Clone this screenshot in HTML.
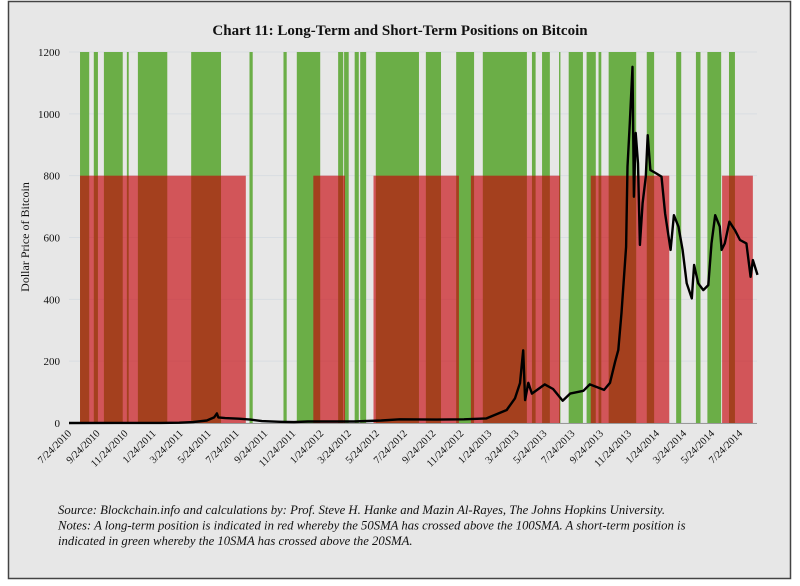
<!DOCTYPE html>
<html><head><meta charset="utf-8"><style>
html,body{margin:0;padding:0;background:#fff;}
svg{display:block;font-family:"Liberation Serif",serif;}
</style></head><body>
<svg id="chart" width="800" height="586" xmlns="http://www.w3.org/2000/svg">
<rect x="8.5" y="1.5" width="782" height="577" fill="#e7e7e7" stroke="#444" stroke-width="1.5"/>
<text x="400" y="35" text-anchor="middle" font-size="15" font-weight="bold" fill="#111">Chart 11: Long-Term and Short-Term Positions on Bitcoin</text>
<text transform="translate(29,237) rotate(-90)" text-anchor="middle" font-size="12" fill="#111">Dollar Price of Bitcoin</text>
<g id="grid"></g><g id="green"></g><g id="red"></g><g id="line"></g><g id="yt"></g><g id="xt"></g>
<text x="58" y="514" font-size="12.7" font-style="italic" fill="#111">Source: Blockchain.info and calculations by: Prof. Steve H. Hanke and Mazin Al-Rayes, The Johns Hopkins University.</text>
<text x="58" y="529.5" font-size="12.7" font-style="italic" fill="#111">Notes: A long-term position is indicated in red whereby the 50SMA has crossed above the 100SMA. A short-term position is</text>
<text x="58" y="545" font-size="12.7" font-style="italic" fill="#111">indicated in green whereby the 10SMA has crossed above the 20SMA.</text>
</svg>
<script>
// days since 7/24/2010
const greenStart=[24,54,76,126,150,266,393,467,496,586,599,622,634,668,777,843,901,1008,1030,1067,1088,1127,1153,1175,1258,1322,1365,1390,1437];
const greenEnd  =[44,63,117,130,214,331,400,474,547,597,609,631,647,762,810,882,997,1016,1047,1070,1119,1147,1159,1235,1274,1333,1375,1420,1450];
const redStart=[24,532,663,875,1136,1422];
const redEnd  =[385,601,849,1069,1307,1489];
const bandLevelGreen=1200, bandLevelRed=800;
const priceDays=[0,100,200,240,270,300,316,322,325,340,370,395,420,460,490,520,560,620,680,720,800,860,909,953,971,982,989,993,1000,1008,1036,1054,1075,1091,1120,1134,1165,1178,1189,1196,1203,1213,1216,1221,1227,1230,1234,1239,1243,1249,1256,1260,1266,1279,1290,1298,1310,1317,1327,1336,1345,1356,1361,1370,1381,1392,1399,1407,1417,1421,1428,1438,1450,1461,1475,1484,1489,1499];
const priceVals=[0.06,0.2,0.3,1,3,8,18,31,18,16,14,11,6,4,3,5,5,5,8,12,11,12,15,42,80,129,235,74,130,95,125,110,72,95,104,125,107,130,198,236,356,570,829,970,1152,732,938,840,576,711,797,931,818,807,797,678,560,672,635,560,452,403,511,452,430,446,581,672,635,560,581,651,624,592,581,473,527,479];
const yTicks=[0,200,400,600,800,1000,1200];
const xTickLabels=["7/24/2010","9/24/2010","11/24/2010","1/24/2011","3/24/2011","5/24/2011","7/24/2011","9/24/2011","11/24/2011","1/24/2012","3/24/2012","5/24/2012","7/24/2012","9/24/2012","11/24/2012","1/24/2013","3/24/2013","5/24/2013","7/24/2013","9/24/2013","11/24/2013","1/24/2014","3/24/2014","5/24/2014","7/24/2014"];

const X0=69, PX=671/1461, Y0=423, YS=371/1200, XR=757;
const xs=d=>X0+d*PX, ys=v=>Y0-v*YS;
const NS="http://www.w3.org/2000/svg";
function mk(tag,attrs,parent){const e=document.createElementNS(NS,tag);for(const k in attrs)e.setAttribute(k,attrs[k]);document.getElementById(parent).appendChild(e);return e;}
function dayOf(s){const [m,d,y]=s.split('/').map(Number);return Math.round((Date.UTC(y,m-1,d)-Date.UTC(2010,6,24))/864e5);}

yTicks.forEach(v=>{
  const g=mk('line',{x1:X0,x2:XR,y1:ys(v),y2:ys(v),stroke:'#d8dde2','stroke-width':1},'grid');
  
  
  const t=mk('text',{x:60,y:ys(v)+4,'text-anchor':'end','font-size':11,fill:'#111'},'yt');
  t.textContent=v;
  
  
});
greenStart.forEach((s,i)=>{
  const r=mk('rect',{x:xs(s),y:ys(bandLevelGreen),width:xs(greenEnd[i])-xs(s),height:ys(0)-ys(bandLevelGreen),fill:'#6bae47'},'green');
  
  
});
redStart.forEach((s,i)=>{
  const r=mk('rect',{x:xs(s),y:ys(bandLevelRed),width:xs(redEnd[i])-xs(s),height:ys(0)-ys(bandLevelRed),fill:'rgba(198,0,6,0.63)'},'red');
  
  
});
const ax=mk('line',{x1:X0,x2:XR,y1:Y0+0.5,y2:Y0+0.5,stroke:'#999','stroke-width':1},'line');


const p=mk('path',{d:priceDays.map((d,i)=>(i?'L':'M')+xs(d).toFixed(1)+','+ys(priceVals[i]).toFixed(1)).join(''),fill:'none',stroke:'#000','stroke-width':2.4,'stroke-linejoin':'round'},'line');


xTickLabels.forEach(l=>{
  const x=xs(dayOf(l));
  const t=mk('text',{transform:`translate(${x+3},${Y0+11}) rotate(-45)`,'text-anchor':'end','font-size':10.5,fill:'#111'},'xt');
  t.textContent=l;
  
  
});
</script>
</body></html>
